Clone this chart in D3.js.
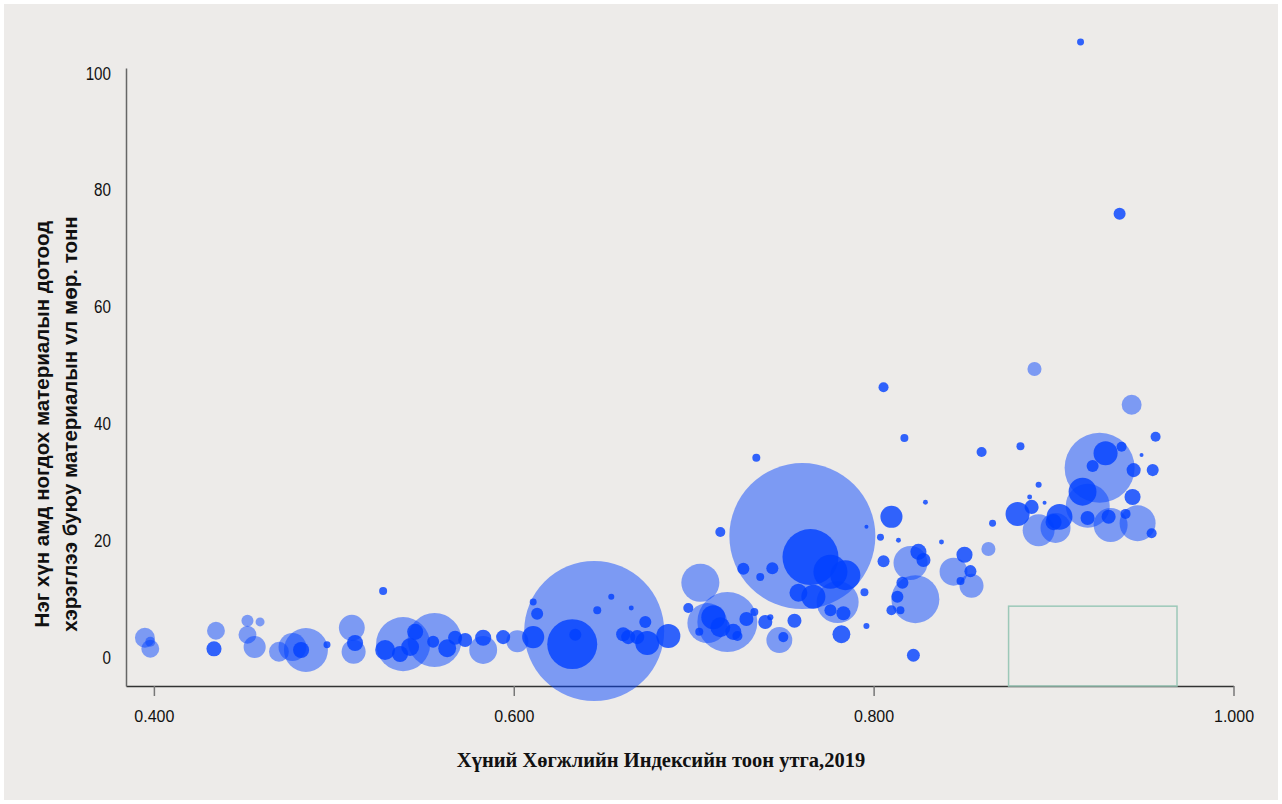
<!DOCTYPE html>
<html lang="mn">
<head>
<meta charset="UTF-8">
<title>ХХИ ба материалын хэрэглээ</title>
<script src="https://d3js.org/d3.v7.min.js"></script>
<style>
  body { margin: 0; background: #fff; }
</style>
</head>
<body>
<script>
// light (translucent) bubbles: HDI, material footprint per capita (t), population (mln)
var lightHdi = [0.395, 0.398, 0.398, 0.4345, 0.452, 0.459, 0.452, 0.456, 0.4695, 0.4845, 0.477, 0.510, 0.511,
  0.5385, 0.556, 0.583, 0.602, 0.6447, 0.7037, 0.7076, 0.7187, 0.7476, 0.7604, 0.780, 0.8232, 0.8205, 0.8444,
  0.8544, 0.8638, 0.8894, 0.9434, 0.9256, 0.919, 0.8917, 0.9011, 0.9317, 0.9467];
var lightMat = [3.3, 1.4, 2.6, 4.5, 6.2, 6.0, 3.8, 1.7, 0.9, 1.2, 1.7, 5.0, 0.9,
  2.2, 2.9, 1.2, 2.7, 4.45, 12.7, 5.8, 6.0, 2.9, 20.7, 9.4, 9.9, 16.1, 14.6,
  12.2, 18.5, 49.3, 43.2, 32.4, 25.9, 21.7, 22.1, 22.6, 22.9];
var lightPop = [26, 21, 6.6, 21, 9.5, 5.3, 21, 32, 26, 127, 51, 44, 38,
  192, 192, 51, 32, 1287, 95, 105, 236, 44, 1400, 116, 151, 76, 51,
  38, 13, 13, 26, 322, 127, 67, 59, 76, 85];

// dark (dense) bubbles
var darkHdi = [0.4334, 0.4818, 0.4962, 0.5118, 0.5274, 0.5285, 0.5368, 0.5452, 0.5424, 0.5552, 0.563, 0.5674,
  0.573, 0.583, 0.5941, 0.6108, 0.6108, 0.613, 0.6325, 0.6342, 0.6464, 0.6542, 0.6653, 0.6731, 0.6608, 0.6636,
  0.6686, 0.6742, 0.6859, 0.697, 0.7109, 0.7148, 0.722, 0.7293, 0.7337, 0.7243, 0.7031, 0.7398, 0.7426, 0.7498,
  0.756, 0.7821, 0.7949, 0.796, 0.8221, 0.7348, 0.7148, 0.7649, 0.776, 0.7843, 0.7276, 0.737, 0.7437, 0.7582,
  0.7665, 0.776, 0.7832, 0.796, 0.8055, 0.8171, 0.860, 0.8288, 0.8099, 0.8661, 0.8038, 0.8138, 0.8377, 0.8249,
  0.8277, 0.8055, 0.8505, 0.8538, 0.8483, 0.816, 0.8132, 0.8099, 0.8149, 0.8816, 0.9567, 0.9289, 0.9378, 0.9489,
  0.9217, 0.9445, 0.9551, 0.9161, 0.9439, 0.8917, 0.8867, 0.895, 0.8878, 0.880, 0.9033, 0.900, 0.9189, 0.9306,
  0.940, 0.9545, 0.915, 0.9367];
var darkMat = [1.4, 1.2, 2.1, 2.4, 11.3, 1.2, 0.5, 4.3, 1.7, 2.6, 1.5, 3.3,
  2.9, 3.3, 3.4, 3.4, 9.4, 7.4, 2.2, 3.8, 8.0, 10.3, 8.4, 6.0, 3.9, 3.4,
  3.4, 2.4, 3.6, 8.4, 6.8, 5.1, 4.3, 6.5, 7.7, 3.6, 4.3, 6.0, 6.8, 3.4,
  6.2, 3.9, 11.1, 5.3, 0.3, 34.1, 21.4, 17.1, 14.6, 14.0, 15.1, 13.7, 15.2, 11.0,
  10.3, 8.0, 7.5, 22.3, 46.2, 37.5, 35.1, 26.5, 24.0, 22.9, 20.5, 20.0, 19.7, 18.0,
  16.6, 16.4, 17.5, 14.7, 13.0, 12.7, 10.3, 8.0, 8.0, 36.1, 37.7, 34.9, 36.0, 34.6,
  32.7, 32.0, 32.0, 28.3, 27.4, 29.5, 27.4, 26.4, 25.7, 24.5, 24.0, 23.1, 23.8, 24.0,
  24.5, 21.2, 105.3, 75.9];
var darkPop = [15, 17, 3.2, 17, 4.2, 26, 17, 17, 21, 9.5, 21, 13,
  13, 17, 13, 32, 3.2, 9.5, 164, 9.5, 4.2, 2.4, 1.6, 9.5, 13, 13,
  13, 38, 38, 6.6, 38, 26, 17, 13, 4.2, 6.6, 4.2, 13, 2.4, 6.6,
  13, 21, 4.2, 2.4, 11, 4.2, 6.6, 206, 76, 59, 9.5, 4.2, 9.5, 21,
  38, 9.5, 13, 1.05, 6.6, 4.2, 6.6, 1.6, 32, 3.2, 3.2, 1.6, 1.6, 17,
  13, 9.5, 17, 9.5, 4.2, 9.5, 9.5, 6.6, 4.2, 4.2, 6.6, 38, 6.6, 1.05,
  9.5, 13, 9.5, 51, 17, 2.4, 1.6, 1.05, 13, 38, 44, 17, 13, 13,
  6.6, 6.6, 3.2, 9.5];

var xTicks = [0.4, 0.6, 0.8, 1.0];
var yTicks = [0, 20, 40, 60, 80, 100];
// highlighted area [hdiFrom, hdiTo, matFrom, matTo]
var highlightBox = [0.875, 0.9686, -4.97, 8.7];

var width = 1282, height = 804;

var svg = d3.select("body").append("svg")
    .attr("width", width).attr("height", height);

svg.append("rect")
    .attr("x", 4).attr("y", 4).attr("width", 1274).attr("height", 796)
    .attr("fill", "#edebe9");

var x = d3.scaleLinear().domain([0.3845, 1.0]).range([126, 1233.5]);
var y = d3.scaleLinear().domain([-4.97, 100.86]).range([686, 68]);
var r = d3.scaleSqrt().domain([0, 1400]).range([0, 73]);

// axes
var xAxis = svg.append("g")
    .attr("transform", "translate(0,686)")
    .call(d3.axisBottom(x).tickValues(xTicks).tickFormat(d3.format(".3f")).tickSize(10).tickSizeOuter(0));
xAxis.select(".domain").attr("stroke", "#333").attr("stroke-width", 1.5);
xAxis.selectAll(".tick line").attr("stroke", "#777").attr("stroke-width", 1.5);
xAxis.selectAll(".tick text")
    .attr("dy", "1.45em")
    .attr("fill", "#111")
    .style("font-family", "'Liberation Sans', Arial, sans-serif")
    .style("font-size", "16px");

var yAxis = svg.append("g")
    .attr("transform", "translate(126,0)")
    .call(d3.axisLeft(y).tickValues(yTicks).tickSize(0).tickSizeOuter(0).tickPadding(15));
yAxis.select(".domain").attr("stroke", "#666").attr("stroke-width", 1.5);
// narrow look: squeeze the labels horizontally
yAxis.selectAll(".tick text")
    .attr("fill", "#111")
    .attr("x", -15 / 0.8)
    .attr("transform", "scale(0.8,1)")
    .style("font-family", "'Liberation Sans', Arial, sans-serif")
    .style("font-size", "19px");

// bubbles
function makeRows(hdi, mat, pop, kind) {
  return hdi.map(function(d, i) { return { hdi: d, mat: mat[i], pop: pop[i], kind: kind }; });
}
var rows = makeRows(lightHdi, lightMat, lightPop, "light")
    .concat(makeRows(darkHdi, darkMat, darkPop, "dark"))
    .sort(function(a, b) { return b.pop - a.pop; });

svg.append("g").selectAll("circle")
    .data(rows)
    .enter()
    .append("circle")
    .attr("cx", function(d) { return x(d.hdi); })
    .attr("cy", function(d) { return y(d.mat); })
    .attr("r", function(d) { return r(d.pop); })
    .attr("fill", "#0040ff")
    .attr("fill-opacity", function(d) { return d.kind == "light" ? 0.48 : 0.8; });

// highlight box
svg.append("rect")
    .attr("x", x(highlightBox[0]))
    .attr("y", y(highlightBox[3]))
    .attr("width", x(highlightBox[1]) - x(highlightBox[0]))
    .attr("height", y(highlightBox[2]) - y(highlightBox[3]))
    .attr("fill", "none")
    .attr("stroke", "#9cc8b8")
    .attr("stroke-width", 1.5);

// titles
svg.append("text")
    .attr("x", 661).attr("y", 767)
    .attr("text-anchor", "middle")
    .style("font-family", "'Liberation Serif', 'Times New Roman', serif")
    .style("font-weight", "bold")
    .style("font-size", "20.5px")
    .attr("fill", "#111")
    .text("Хүний Хөгжлийн Индексийн тоон утга,2019");

var yTitle = svg.append("text")
    .attr("transform", "translate(49,424) rotate(-90)")
    .attr("text-anchor", "middle")
    .style("font-family", "'Liberation Sans', Arial, sans-serif")
    .style("font-weight", "bold")
    .style("font-size", "20.5px")
    .attr("fill", "#111");
yTitle.append("tspan").attr("x", 0).attr("dy", 0).text("Нэг хүн амд ногдох материалын дотоод");
yTitle.append("tspan").attr("x", 0).attr("dy", 28).text("хэрэглээ буюу материалын vл мөр. тонн");
</script>
</body>
</html>
